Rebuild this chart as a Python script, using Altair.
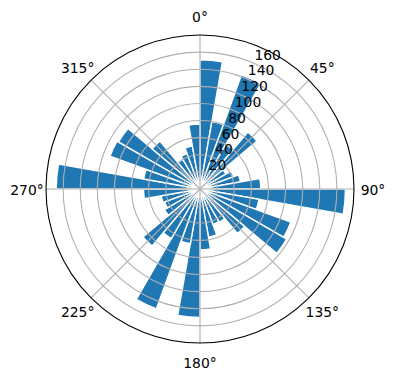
import math
import altair as alt
import pandas as pd

# ---- data ----
directions = list(range(0, 360, 10))          # start of each 10° sector (clockwise from north)
bin_width = 10
counts = [151, 80, 142, 60, 87, 35, 42, 48, 71,
          170, 70, 113, 117, 68, 45, 44, 57, 71,
          150, 65, 149, 67, 87, 48, 44, 46, 66,
          168, 67, 112, 110, 73, 40, 44, 51, 76]
radial_ticks = [20, 40, 60, 80, 100, 120, 140, 160]
radial_tick_labels = [str(v) for v in radial_ticks]
r_max = 180
angle_ticks = [0, 45, 90, 135, 180, 225, 270, 315]
angle_tick_labels = ["0°", "45°", "90°", "135°", "180°", "225°", "270°", "315°"]
radial_label_angle = 22.5

bars = pd.DataFrame({"start": directions,
                     "end": [d + bin_width for d in directions],
                     "count": counts})
rgrid = pd.DataFrame({"r": radial_ticks, "label": radial_tick_labels})
spokes = pd.DataFrame({"angle": angle_ticks, "r": [r_max] * len(angle_ticks),
                       "label": angle_tick_labels})
outer = pd.DataFrame({"r": [r_max]})

# ---- layout / style ----
W, H = 396, 380
CX, CY = 200, 189
R_PX = 154
K = R_PX / r_max          # pixels per data unit
FONT = "DejaVu Sans"
FS = 13.9

theta_scale = alt.Scale(type="linear", domain=[0, 360], range=[0, 2 * math.pi], nice=False)
r_scale = alt.Scale(type="linear", domain=[0, r_max], range=[0, R_PX], nice=False, zero=True)
x_scale = alt.Scale(domain=[-CX / K, (W - CX) / K], nice=False, zero=False)
y_scale = alt.Scale(domain=[-(H - CY) / K, CY / K], nice=False, zero=False)

center = dict(x=alt.value(CX), y=alt.value(CY))


def rad(field):
    return alt.Radius(field, scale=r_scale, stack=False)


bar_layer = alt.Chart(bars).mark_arc(fill="#1f77b4", stroke="white", strokeWidth=1.4).encode(
    theta=alt.Theta("start:Q", scale=theta_scale, stack=False),
    theta2=alt.Theta2("end"),
    radius=rad("count:Q"),
    **center,
)

circle_layer = alt.Chart(rgrid).mark_arc(filled=False, stroke="#b0b0b0", strokeWidth=1.1).encode(
    theta=alt.value(0),
    theta2=alt.value(2 * math.pi),
    radius=rad("r:Q"),
    **center,
)

spoke_layer = alt.Chart(spokes).mark_arc(filled=False, stroke="#b0b0b0", strokeWidth=1.1).encode(
    theta=alt.Theta("angle:Q", scale=theta_scale, stack=False),
    theta2=alt.Theta2("angle"),
    radius=rad("r:Q"),
    **center,
)

outer_layer = alt.Chart(outer).mark_arc(filled=False, stroke="black", strokeWidth=1.1).encode(
    theta=alt.value(0),
    theta2=alt.value(2 * math.pi),
    radius=rad("r:Q"),
    **center,
)

angle_label_layer = alt.Chart(spokes).mark_text(
    font=FONT, fontSize=FS, color="black", align="center", baseline="middle", dy=2
).encode(
    theta=alt.Theta("angle:Q", scale=theta_scale, stack=False),
    radius=alt.value(173),
    text=alt.Text("label:N"),
    **center,
)

radial_label_layer = alt.Chart(rgrid).transform_calculate(
    lx=f"datum.r * sin({radial_label_angle} * PI / 180)",
    ly=f"datum.r * cos({radial_label_angle} * PI / 180)",
).mark_text(
    font=FONT, fontSize=FS, color="black", align="left", baseline="bottom", dx=2, dy=0
).encode(
    x=alt.X("lx:Q", scale=x_scale, axis=None),
    y=alt.Y("ly:Q", scale=y_scale, axis=None),
    text=alt.Text("label:N"),
)

chart = alt.layer(
    bar_layer, circle_layer, spoke_layer, outer_layer, angle_label_layer, radial_label_layer
).properties(
    width=W, height=H, padding=0,
    autosize=alt.AutoSizeParams(type="none"),
    background="white",
).configure_view(strokeOpacity=0)

chart.save("out.html", embed_options={"renderer": "svg", "actions": False})
